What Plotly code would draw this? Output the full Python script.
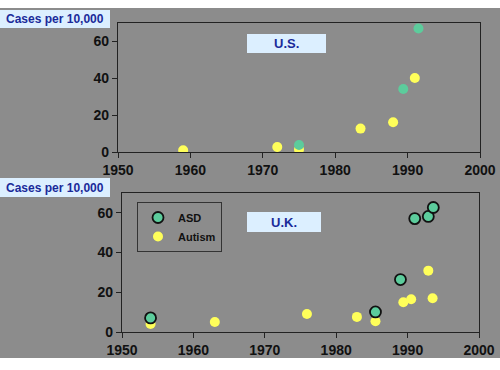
import plotly.graph_objects as go

# ---- data ----
us_autism_year = [1959, 1972, 1975, 1983.5, 1988, 1991]
us_autism_rate = [0.9, 2.7, 1.3, 12.7, 16.1, 40.2]
us_asd_year = [1975, 1989.4, 1991.5]
us_asd_rate = [3.8, 34.2, 67]

uk_asd_year = [1954, 1985.5, 1989, 1991, 1992.9, 1993.6]
uk_asd_rate = [7.1, 10.1, 26.4, 57.1, 58.2, 62.7]
uk_autism_year = [1954, 1963, 1975.9, 1982.9, 1985.5, 1989.4, 1990.5, 1992.9, 1993.5]
uk_autism_rate = [4.0, 5.0, 9.1, 7.6, 5.4, 15.0, 16.5, 30.9, 17.0]

x_ticks = [1950, 1960, 1970, 1980, 1990, 2000]
y_ticks = [0, 20, 40, 60]
panel_titles = ["U.S.", "U.K."]
y_label = "Cases per 10,000"

W, H = 500, 370
GRAY = "#8c8c8c"
GREEN = "#5ccc9c"
YELLOW = "#ffff5a"
NAVY = "#1a2a9a"
BOXBLUE = "#dcefff"
DARK = "#222222"
FONT = "Liberation Sans, Arial, sans-serif"

def px(x):
    return x / W

def py(y):
    return 1 - y / H

fig = go.Figure()

# US traces
fig.add_trace(go.Scatter(x=us_autism_year, y=us_autism_rate, mode="markers", name="Autism",
                         marker=dict(color=YELLOW, size=10, line=dict(width=0)),
                         xaxis="x", yaxis="y", showlegend=False))
fig.add_trace(go.Scatter(x=us_asd_year, y=us_asd_rate, mode="markers", name="ASD",
                         marker=dict(color=GREEN, size=10, line=dict(width=0)),
                         xaxis="x", yaxis="y", showlegend=False))
# UK traces
fig.add_trace(go.Scatter(x=uk_autism_year, y=uk_autism_rate, mode="markers", name="Autism",
                         marker=dict(color=YELLOW, size=10, line=dict(width=0)),
                         xaxis="x2", yaxis="y2", showlegend=True, legendrank=2))
fig.add_trace(go.Scatter(x=uk_asd_year, y=uk_asd_rate, mode="markers", name="ASD",
                         marker=dict(color=GREEN, size=11, line=dict(width=1.8, color="#111111")),
                         xaxis="x2", yaxis="y2", showlegend=True, legendrank=1))

axis_common = dict(
    showgrid=False, zeroline=False, showline=True, linecolor=DARK, linewidth=1.2,
    mirror=True, ticks="outside", ticklen=5, tickcolor=DARK, tickwidth=1,
    automargin=False,
    tickfont=dict(family=FONT, size=14, color="#111111", weight="bold"),
)

fig.update_layout(
    template="none",
    width=W, height=H,
    margin=dict(l=0, r=0, t=0, b=0, pad=0),
    paper_bgcolor="white",
    plot_bgcolor=GRAY,
    font=dict(family=FONT),
    xaxis=dict(domain=[px(118), px(480)], range=[1950, 2000], tickvals=x_ticks,
               anchor="y", **axis_common),
    yaxis=dict(domain=[py(152), py(23)], range=[0, 70], tickvals=y_ticks,
               anchor="x", **axis_common),
    xaxis2=dict(domain=[px(122), px(479)], range=[1950, 2000], tickvals=x_ticks,
                anchor="y2", **axis_common),
    yaxis2=dict(domain=[py(332), py(193)], range=[0, 70], tickvals=y_ticks,
                anchor="x2", **axis_common),
    legend=dict(x=px(137), y=py(202), xanchor="left", yanchor="top",
                bgcolor=GRAY, bordercolor="#333333", borderwidth=1,
                font=dict(family=FONT, size=11, color="#111111", weight="bold"),
                traceorder="normal", itemwidth=30, tracegroupgap=0),
    showlegend=True,
)

shapes = []
# gray background band
shapes.append(dict(type="rect", xref="paper", yref="paper", x0=0, x1=1,
                   y0=py(358), y1=py(8), fillcolor=GRAY, line=dict(width=0), layer="below"))
# y-label boxes
for top, bot in [(10, 28), (178, 197)]:
    shapes.append(dict(type="rect", xref="paper", yref="paper", x0=0, x1=px(110),
                       y0=py(bot), y1=py(top), fillcolor=BOXBLUE, line=dict(width=0)))
# panel title boxes
for (x0, x1, top, bot) in [(247, 326, 34, 53), (247, 321, 212, 232)]:
    shapes.append(dict(type="rect", xref="paper", yref="paper", x0=px(x0), x1=px(x1),
                       y0=py(bot), y1=py(top), fillcolor=BOXBLUE, line=dict(width=0)))
fig.update_layout(shapes=shapes)

annotations = []
for top, bot in [(10, 28), (178, 197)]:
    annotations.append(dict(text=y_label, xref="paper", yref="paper", x=px(55),
                            y=py((top + bot) / 2), showarrow=False, xanchor="center",
                            yanchor="middle",
                            font=dict(family=FONT, size=12, color=NAVY, weight="bold")))
for title, (cx, cy) in zip(panel_titles, [(286.5, 43.5), (284, 222)]):
    annotations.append(dict(text=title, xref="paper", yref="paper", x=px(cx), y=py(cy),
                            showarrow=False, xanchor="center", yanchor="middle",
                            font=dict(family=FONT, size=13, color=NAVY, weight="bold")))
fig.update_layout(annotations=annotations)

fig.write_html(
    "out.html",
    config={"displayModeBar": False},
    post_script="document.body.style.margin='0';document.body.style.overflow='hidden';",
)
